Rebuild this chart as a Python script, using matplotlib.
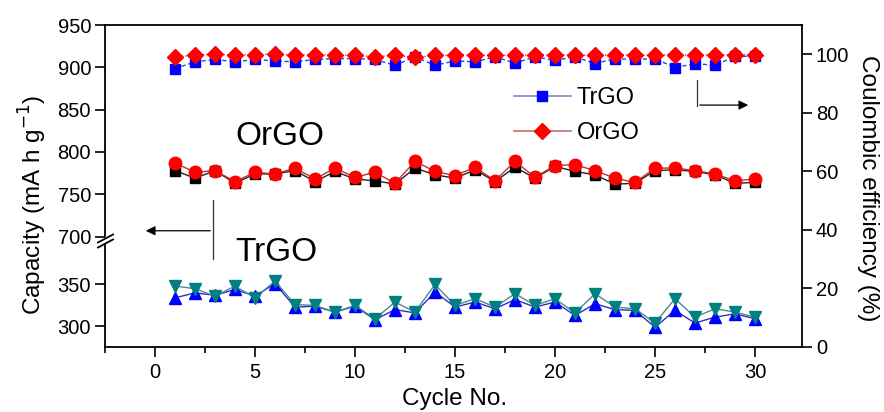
import numpy as np
import matplotlib
matplotlib.use("Agg")
import matplotlib.pyplot as plt
from matplotlib.lines import Line2D

plt.rcParams['font.family'] = ['Liberation Sans', 'DejaVu Sans']

# ---- data -------------------------------------------------------------
cycles = np.arange(1, 31)

# OrGO capacity (mA h g-1)
orgo_charge = [778, 769, 778, 763, 774, 774, 778, 765, 777, 768, 766, 762, 781, 773, 769,
               779, 765, 782, 769, 783, 777, 773, 762, 763, 778, 779, 777, 773, 763, 764]
orgo_discharge = [787, 776, 778, 765, 776, 774, 781, 768, 781, 770, 776, 763, 789, 777, 772,
                  782, 766, 789, 770, 784, 785, 778, 769, 764, 781, 781, 778, 774, 766, 768]

# TrGO capacity (mA h g-1)
trgo_charge = [334, 340, 337, 344, 336, 351, 323, 324, 317, 324, 308, 320, 316, 341, 323,
               329, 321, 332, 323, 329, 313, 327, 320, 319, 299, 319, 304, 311, 315, 309]
trgo_discharge = [348, 345, 336, 348, 334, 354, 326, 325, 317, 325, 309, 329, 317, 350, 325,
                  333, 323, 339, 325, 333, 316, 339, 323, 321, 304, 333, 311, 321, 317, 311]

# Coulombic efficiency (%)
trgo_ce = [95.1, 97.4, 98.2, 97.4, 98.2, 97.7, 97.4, 98.2, 98.5, 98.5, 98.2, 96.2, 99.1, 96.2, 97.7,
           97.4, 99.1, 97.0, 99.1, 97.9, 99.1, 96.8, 98.5, 98.2, 98.5, 95.4, 96.8, 96.2, 99.3, 99.3]
orgo_ce = [99.1, 99.7, 100.0, 99.7, 99.9, 100.0, 99.7, 99.8, 99.8, 99.6, 99.1, 99.7, 98.9, 99.6, 99.7,
           99.8, 99.6, 99.7, 99.7, 99.8, 99.7, 99.6, 99.8, 99.7, 99.7, 99.8, 99.7, 99.8, 99.8, 99.8]

top_ticks = [700, 750, 800, 850, 900, 950]
bot_ticks = [300, 350]
x_ticks = [0, 5, 10, 15, 20, 25, 30]
ce_ticks = [0, 20, 40, 60, 80, 100]

# ---- layout -----------------------------------------------------------
W, H = 884, 412
fig = plt.figure(figsize=(W / 100, H / 100), dpi=100)
L, R = 105 / W, 802 / W
B, T = 1 - 346.5 / H, 1 - 25 / H
BRK = 1 - 240 / H

ax_bot = fig.add_axes([L, B, R - L, BRK - B])
ax_top = fig.add_axes([L, BRK, R - L, T - BRK], sharex=ax_bot)
ax_ce = fig.add_axes([L, B, R - L, T - B])
ax_ce.set_facecolor('none')

XLIM = (-2.5, 32.35)
ax_bot.set_xlim(*XLIM)
ax_ce.set_xlim(*XLIM)
ax_top.set_ylim(696, 950)
ax_bot.set_ylim(276, 403)
ax_ce.set_ylim(0, 110)

TICK_FS = 14.5
tick_kw = dict(direction='out', labelsize=TICK_FS, width=1.2, length=7, pad=3)

# bottom capacity panel
for s in ['top', 'right']:
    ax_bot.spines[s].set_visible(False)
for s in ['left', 'bottom']:
    ax_bot.spines[s].set_linewidth(1.3)
ax_bot.spines['left'].set_bounds(276, 398)
ax_bot.set_yticks(bot_ticks)
ax_bot.set_xticks(x_ticks)
ax_bot.set_xticks(np.arange(-2.5, 32.5, 2.5), minor=True)
ax_bot.tick_params(axis='both', which='major', **tick_kw)
ax_bot.tick_params(axis='x', which='minor', direction='out', width=1.2, length=4)
ax_bot.tick_params(axis='x', pad=5)

# top capacity panel
for s in ['top', 'right', 'bottom']:
    ax_top.spines[s].set_visible(False)
ax_top.spines['left'].set_linewidth(1.3)
ax_top.spines['left'].set_bounds(701, 950)
ax_top.set_yticks(top_ticks)
ax_top.tick_params(axis='y', **tick_kw)
ax_top.tick_params(axis='x', which='both', bottom=False, labelbottom=False)

# efficiency axis on the right
for s in ['left', 'bottom']:
    ax_ce.spines[s].set_visible(False)
for s in ['top', 'right']:
    ax_ce.spines[s].set_linewidth(1.3)
ax_ce.yaxis.tick_right()
ax_ce.set_yticks(ce_ticks)
ax_ce.tick_params(axis='y', **tick_kw)
ax_ce.tick_params(axis='x', which='both', bottom=False, labelbottom=False)

# axis break marks
for yb in (238.5, 243.5):
    fig.add_artist(Line2D([98 / W, 113 / W], [1 - (yb + 4) / H, 1 - (yb - 4) / H],
                          color='black', lw=1.3))

# ---- capacity series --------------------------------------------------
ax_top.plot(cycles, orgo_charge, color='#222222', lw=1.0, marker='s', ms=7,
            mfc='black', mec='black', clip_on=False)
ax_top.plot(cycles, orgo_discharge, color='#c03030', lw=1.0, marker='o', ms=9,
            mfc='#ff0000', mec='#ff0000', clip_on=False)
ax_bot.plot(cycles, trgo_charge, color='#3030c0', lw=1.0, marker='^', ms=9,
            mfc='#0000ff', mec='#0000ff', clip_on=False)
ax_bot.plot(cycles, trgo_discharge, color='#4a8c8c', lw=1.0, marker='v', ms=9,
            mfc='#008080', mec='#008080', clip_on=False)

# ---- coulombic efficiency --------------------------------------------
ax_ce.plot(cycles, trgo_ce, color='#3344cc', lw=1.0, ls=(0, (3, 2)), marker='s', ms=7,
           mfc='#0000ff', mec='#0000ff', clip_on=False)
ax_ce.plot(cycles, orgo_ce, color='#dd3333', lw=1.0, ls=(0, (1, 1.5)), marker='D', ms=8,
           mfc='#ff0000', mec='#ff0000', clip_on=False)

handles = [Line2D([], [], color='#7b8ac0', lw=1.2, marker='s', ms=7, mfc='#0000ff', mec='#0000ff'),
           Line2D([], [], color='#c87070', lw=1.2, marker='D', ms=8, mfc='#ff0000', mec='#ff0000')]
ax_ce.legend(handles, ['TrGO', 'OrGO'], loc='upper left', bbox_to_anchor=(514 / W, 1 - 87 / H),
             bbox_transform=fig.transFigure, frameon=False, fontsize=17, borderpad=0,
             borderaxespad=0, handlelength=2.4, handletextpad=0.25, labelspacing=0.55)

# ---- direction arrows -------------------------------------------------
arrow_kw = dict(arrowstyle='-|>', color='black', lw=0.9, mutation_scale=14)
ax_ce.plot([2.9, 2.9], [29.9, 50.1], color='#333333', lw=0.9)
ax_ce.annotate('', xy=(-0.6, 39.6), xytext=(2.9, 39.6), arrowprops=arrow_kw)
ax_ce.plot([27.1, 27.1], [82.2, 91.1], color='#333333', lw=0.9)
ax_ce.annotate('', xy=(29.8, 82.6), xytext=(27.1, 82.6), arrowprops=arrow_kw)

# ---- labels ------------------------------------------------------------
ax_ce.text(4.0, 72.0, 'OrGO', fontsize=24, va='center', ha='left')
ax_ce.text(4.0, 32.3, 'TrGO', fontsize=24, va='center', ha='left')

fig.text(33 / W, 1 - 205 / H, 'Capacity (mA h g$^{-1}$)', rotation=90, fontsize=17.5,
         ha='center', va='center')
fig.text(455 / W, 1 - 399 / H, 'Cycle No.', fontsize=17.5, ha='center', va='center')
fig.text(868 / W, 1 - 188 / H, 'Coulombic efficiency (%)', rotation=270, fontsize=17.5,
         ha='center', va='center')

fig.savefig('out.png', dpi=100)
